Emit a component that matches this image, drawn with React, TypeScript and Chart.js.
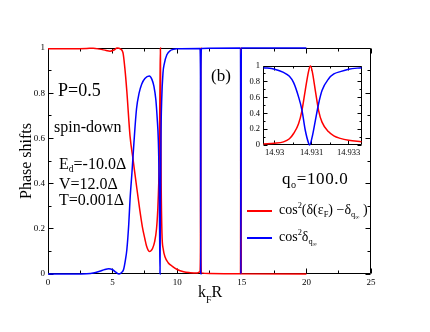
import React, { useEffect, useRef } from 'react';
import { Chart, registerables } from 'chart.js';

Chart.register(...registerables);

const FONT = "'Liberation Serif', 'Times New Roman', serif";

// ---- main panel data (k_F R vs phase-shift factors) ----
const redX = [0, 1, 2, 3, 3.5, 4, 4.5, 4.8, 5.1, 5.35, 5.6, 5.8, 5.95, 6.1, 6.35, 6.6, 6.85, 7.1, 7.3, 7.5, 7.62, 7.75, 7.85, 7.95, 8.1, 8.25, 8.4, 8.5, 8.57, 8.62, 8.67, 8.7, 8.73, 8.76, 8.82, 8.92, 9.06, 9.3, 9.6, 10.0, 10.5, 11.0, 11.5, 11.76, 11.8, 11.82, 11.84, 11.88, 12.5, 14.9, 14.93, 14.96, 20];
const redY = [0.997, 0.997, 0.997, 0.998, 0.999, 0.995, 0.989, 0.986, 0.991, 1.0, 0.996, 0.98, 0.91, 0.81, 0.61, 0.5, 0.39, 0.285, 0.21, 0.155, 0.125, 0.106, 0.1, 0.102, 0.114, 0.142, 0.2, 0.29, 0.4, 0.55, 0.85, 1.0, 0.7, 0.4, 0.18, 0.11, 0.075, 0.05, 0.035, 0.02, 0.01, 0.006, 0.004, 0.01, 0.1, 1.0, 0.1, 0.005, 0.002, 0.001, 1.0, 0.001, 0.0005];

const blueX = [0, 2, 3, 3.5, 4, 4.4, 4.7, 5.0, 5.25, 5.5, 5.7, 5.85, 6.0, 6.1, 6.25, 6.35, 6.5, 6.65, 6.85, 7.05, 7.25, 7.5, 7.84, 8.05, 8.2, 8.35, 8.45, 8.54, 8.6, 8.64, 8.67, 8.7, 8.74, 8.8, 8.9, 9.0, 9.2, 9.5, 10, 11.76, 11.8, 11.82, 11.84, 11.88, 14.9, 14.93, 14.96, 20];
const blueY = [0, 0, 0.001, 0.004, 0.012, 0.02, 0.023, 0.019, 0.008, 0.0, 0.007, 0.02, 0.065, 0.106, 0.22, 0.33, 0.45, 0.58, 0.73, 0.8, 0.84, 0.865, 0.876, 0.86, 0.83, 0.77, 0.69, 0.59, 0.42, 0.18, 0.0, 0.3, 0.6, 0.77, 0.89, 0.93, 0.97, 0.99, 0.997, 0.998, 0.9, 0.0, 0.9, 0.998, 1.0, 0.0, 1.0, 1.0];

const xTicks = [0, 5, 10, 15, 20, 25];
const xTickLabels = ['0', '5', '10', '15', '20', '25'];
const xMinorTicks = [2.5, 7.5, 12.5, 17.5, 22.5];
const yTicks = [0, 0.2, 0.4, 0.6, 0.8, 1];
const yTickLabels = ['0', '0.2', '0.4', '0.6', '0.8', '1'];
const yMinorTicks = [0.1, 0.3, 0.5, 0.7, 0.9];

// ---- inset data (zoom on the resonance near 14.931) ----
const insetRedX = [14.92955, 14.93, 14.93036, 14.9306, 14.93077, 14.93097, 14.93111, 14.93124, 14.93138, 14.93145, 14.93152, 14.93165, 14.93178, 14.93192, 14.93219, 14.9324, 14.93266, 14.933, 14.93352];
const insetRedY = [0.013, 0.022, 0.04, 0.08, 0.146, 0.27, 0.44, 0.69, 0.94, 1.0, 0.94, 0.69, 0.44, 0.29, 0.167, 0.115, 0.084, 0.06, 0.04];
const insetBlueX = [14.92955, 14.93, 14.93036, 14.9306, 14.93077, 14.93097, 14.93111, 14.93124, 14.93138, 14.93142, 14.93152, 14.93165, 14.93178, 14.93192, 14.93219, 14.9324, 14.93266, 14.933, 14.93352];
const insetBlueY = [0.98, 0.96, 0.92, 0.87, 0.79, 0.61, 0.44, 0.19, 0.02, 0.0, 0.1, 0.31, 0.52, 0.69, 0.84, 0.9, 0.93, 0.96, 0.98];

const insetXTicks = [14.93, 14.9315, 14.933];
const insetXTickLabels = ['14.93', '14.931', '14.933'];
const insetXMinorTicks = [14.93075, 14.93225];
const insetYTicks = [0, 0.2, 0.4, 0.6, 0.8, 1];
const insetYTickLabels = ['0', '0.2', '0.4', '0.6', '0.8', '1'];
const insetYMinorTicks = [0.1, 0.3, 0.5, 0.7, 0.9];

const zip = (xs: number[], ys: number[]) => xs.map((x, i) => ({ x, y: ys[i] }));

function framePlugin(xMaj: number[], xMin: number[], yMaj: number[], yMin: number[], majLen: number, minLen: number) {
  return {
    id: 'frameTicks',
    beforeDatasetsDraw(chart: any) {
      const { ctx, chartArea, scales } = chart;
      const { left, right, top, bottom } = chartArea;
      const xs = scales.x;
      const ys = scales.y;
      const L = Math.floor(left) + 0.5;
      const R = Math.ceil(right) - 0.5;
      const T = Math.floor(top) + 0.5;
      const B = Math.ceil(bottom) - 0.5;
      ctx.save();
      ctx.strokeStyle = '#000';
      ctx.lineWidth = 1;
      ctx.beginPath();
      ctx.moveTo(L, T); ctx.lineTo(R, T); ctx.lineTo(R, B); ctx.lineTo(L, B); ctx.closePath();
      const xt = (v: number, len: number) => {
        const p = Math.floor(xs.getPixelForValue(v)) + 0.5;
        ctx.moveTo(p, B); ctx.lineTo(p, B - len);
        ctx.moveTo(p, T); ctx.lineTo(p, T + len);
      };
      const yt = (v: number, len: number) => {
        const p = Math.floor(ys.getPixelForValue(v)) + 0.5;
        ctx.moveTo(L, p); ctx.lineTo(L + len, p);
        ctx.moveTo(R, p); ctx.lineTo(R - len, p);
      };
      xMaj.forEach(v => xt(v, majLen));
      xMin.forEach(v => xt(v, minLen));
      yMaj.forEach(v => yt(v, majLen));
      yMin.forEach(v => yt(v, minLen));
      ctx.stroke();
      ctx.restore();
    },
  };
}

const Sub = ({ children, s = 0.6, d = '-0.35em' }: any) => (
  <span style={{ fontSize: `${s}em`, verticalAlign: d, lineHeight: 0 }}>{children}</span>
);
const Txt = ({ x, base, fs, ls, children }: any) => (
  <div style={{ position: 'absolute', left: x, top: base - 0.8375 * fs, fontSize: fs, lineHeight: 1, whiteSpace: 'nowrap', letterSpacing: ls || 0 }}>{children}</div>
);

export default function App() {
  const mainRef = useRef<HTMLCanvasElement>(null);
  const insetRef = useRef<HTMLCanvasElement>(null);

  useEffect(() => {
    Chart.defaults.font.family = FONT;
    Chart.defaults.color = '#000';
    const ds = (data: any, color: string) => ({
      data,
      borderColor: color,
      backgroundColor: color,
      borderWidth: 1.5,
      pointRadius: 0,
      fill: false,
      cubicInterpolationMode: 'monotone' as const,
      clip: 4,
    });
    // Chart.js paints the first dataset last, so blue (first) ends up on top of red.
    const main = new Chart(mainRef.current!, {
      type: 'line',
      data: {
        datasets: [ds(zip(blueX, blueY), '#0000ff'), ds(zip(redX, redY), '#ff0000')],
      },
      options: {
        animation: false,
        responsive: false,
        layout: { padding: { left: 0, right: 59, top: 48, bottom: 0 } },
        plugins: { legend: { display: false }, tooltip: { enabled: false } },
        scales: {
          x: {
            type: 'linear', min: 0, max: 25,
            grid: { display: false, drawTicks: false },
            border: { display: false },
            afterBuildTicks: (a: any) => { a.ticks = xTicks.map(v => ({ value: v })); },
            afterFit: (s: any) => { s.height = 58; },
            ticks: { callback: (_v: any, i: number) => xTickLabels[i], font: { size: 9 }, padding: 3, maxRotation: 0, autoSkip: false },
          },
          y: {
            type: 'linear', min: 0, max: 1,
            grid: { display: false, drawTicks: false },
            border: { display: false },
            afterBuildTicks: (a: any) => { a.ticks = yTicks.map(v => ({ value: v })); },
            afterFit: (s: any) => { s.width = 48; },
            ticks: { callback: (_v: any, i: number) => yTickLabels[i], font: { size: 9 }, padding: 3, autoSkip: false },
          },
        },
      },
      plugins: [framePlugin(xTicks, xMinorTicks, yTicks, yMinorTicks, 5, 3)],
    });

    const inset = new Chart(insetRef.current!, {
      type: 'line',
      data: {
        datasets: [ds(zip(insetBlueX, insetBlueY), '#0000ff'), ds(zip(insetRedX, insetRedY), '#ff0000')],
      },
      options: {
        animation: false,
        responsive: false,
        layout: { padding: { left: 0, right: 6, top: 7, bottom: 0 } },
        plugins: { legend: { display: false }, tooltip: { enabled: false } },
        scales: {
          x: {
            type: 'linear', min: 14.92953, max: 14.93354,
            grid: { display: false, drawTicks: false },
            border: { display: false },
            afterBuildTicks: (a: any) => { a.ticks = insetXTicks.map(v => ({ value: v })); },
            afterFit: (s: any) => { s.height = 17; },
            ticks: { callback: (_v: any, i: number) => insetXTickLabels[i], font: { size: 8.5 }, padding: 3, maxRotation: 0, autoSkip: false },
          },
          y: {
            type: 'linear', min: 0, max: 1,
            grid: { display: false, drawTicks: false },
            border: { display: false },
            afterBuildTicks: (a: any) => { a.ticks = insetYTicks.map(v => ({ value: v })); },
            afterFit: (s: any) => { s.width = 33; },
            ticks: { callback: (_v: any, i: number) => insetYTickLabels[i], font: { size: 8.5 }, padding: 3, autoSkip: false },
          },
        },
      },
      plugins: [framePlugin(insetXTicks, insetXMinorTicks, insetYTicks, insetYMinorTicks, 4, 2)],
    });

    return () => { main.destroy(); inset.destroy(); };
  }, []);

  return (
    <div style={{ position: 'fixed', left: 0, top: 0, width: 430, height: 332, background: '#fff', fontFamily: FONT, color: '#000', overflow: 'hidden' }}>
      <canvas ref={mainRef} width={430} height={332} style={{ position: 'absolute', left: 0, top: 0, width: 430, height: 332 }} />
      <canvas ref={insetRef} width={138} height={104} style={{ position: 'absolute', left: 230, top: 58, width: 138, height: 104 }} />

      <div style={{ position: 'absolute', left: 26 - 60, top: 161 - 9, width: 120, height: 18, lineHeight: '18px', fontSize: 16, textAlign: 'center', transform: 'rotate(-90deg)', whiteSpace: 'nowrap' }}>Phase shifts</div>
      <Txt x={198} base={297.5} fs={16}>k<Sub s={0.62} d="-0.6em">F</Sub>R</Txt>

      <Txt x={58} base={96} fs={18}>P=0.5</Txt>
      <Txt x={54} base={132} fs={16}>spin-down</Txt>
      <Txt x={59} base={169.5} fs={16}>E<Sub>d</Sub>=-10.0Δ</Txt>
      <Txt x={59} base={189} fs={16}>V=12.0Δ</Txt>
      <Txt x={59} base={205} fs={16}>T=0.001Δ</Txt>
      <Txt x={211} base={81} fs={17}>(b)</Txt>
      <Txt x={282} base={184} fs={17} ls="0.6px">q<Sub>o</Sub>=100.0</Txt>

      <div style={{ position: 'absolute', left: 247, top: 210, width: 25, height: 1.5, background: '#ff0000' }} />
      <Txt x={279} base={215} fs={14}>cos<Sub d="0.7em">2</Sub>(δ(ε<Sub>F</Sub>) −δ<Sub>q<Sub s={0.7}>∞</Sub></Sub> )</Txt>
      <div style={{ position: 'absolute', left: 247, top: 237, width: 25, height: 1.5, background: '#0000ff' }} />
      <Txt x={279} base={241.5} fs={14}>cos<Sub d="0.7em">2</Sub>δ<Sub>q<Sub s={0.7}>∞</Sub></Sub></Txt>
    </div>
  );
}
